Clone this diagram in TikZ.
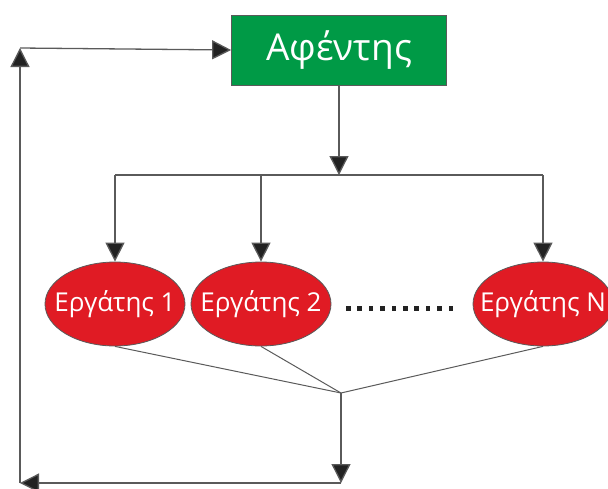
\documentclass[tikz,border=0pt]{standalone}
\usepackage{fontspec}
\setmainfont{Open Sans}
\usetikzlibrary{arrows.meta,shapes.geometric}
\definecolor{mastergreen}{HTML}{009A46}
\definecolor{workerred}{HTML}{E01B24}
\definecolor{wire}{HTML}{5A5A5A}
\definecolor{tipfill}{HTML}{222222}
\tikzset{
  masterbox/.style={draw=wire, line width=0.8pt, fill=mastergreen, text=white,
    minimum width=215pt, minimum height=70pt, inner sep=0pt, font=\fontsize{37}{42}\selectfont},
  workerell/.style={ellipse, draw=wire, line width=0.8pt, fill=workerred, text=white,
    minimum width=140pt, minimum height=84pt, inner xsep=-14pt, inner ysep=0pt,
    font=\fontsize{26}{30}\selectfont},
  wireline/.style={draw=wire, line width=1.3pt},
  flow/.style={wireline, -{Triangle[length=19pt, width=19pt, fill=tipfill]}},
}
\begin{document}
\begin{tikzpicture}[x=1pt, y=-1pt]
  \clip (0,0) rectangle (608,488);
  \useasboundingbox (0,0) rectangle (608,488);

  % master and workers
  \node[masterbox] (master) at (339,50) {Αφέντης};
  \node[workerell] (w1) at (115,304) {Εργάτης 1};
  \node[workerell] (w2) at (261,304) {Εργάτης 2};
  \node[workerell] (wn) at (543,304) {Εργάτης Ν};

  % row of dots between worker 2 and worker N
  \foreach \i in {0,...,9}
    \fill[tipfill] (346+\i*11.4,306) rectangle ++(4.6,4.6);

  % distribution bus
  \coordinate (bus) at (339,175);
  \coordinate (bus1) at (115,175);
  \coordinate (busn) at (543,175);
  \draw[flow] (master.south) -- (bus);
  \draw[wireline] (bus1) -- (busn);
  \draw[flow] (bus1) -- (w1.north);
  \draw[flow] (261,175) -- (w2.north);
  \draw[flow] (busn) -- (wn.north);

  % collection and feedback loop
  \coordinate (join) at (341,393);
  \coordinate (down) at (341,483);
  \coordinate (corner) at (20,483);
  \coordinate (top) at (20,48);
  \draw[draw=wire, line width=1pt] (w1.south) -- (join);
  \draw[draw=wire, line width=1pt] (w2.south) -- (join);
  \draw[draw=wire, line width=1pt] (wn.south) -- (join);
  \draw[flow] (join) -- (down);
  \draw[flow] (down) -- (corner);
  \draw[flow] (corner) -- (top);
  \draw[flow] (top) -- (master.west);
\end{tikzpicture}
\end{document}
